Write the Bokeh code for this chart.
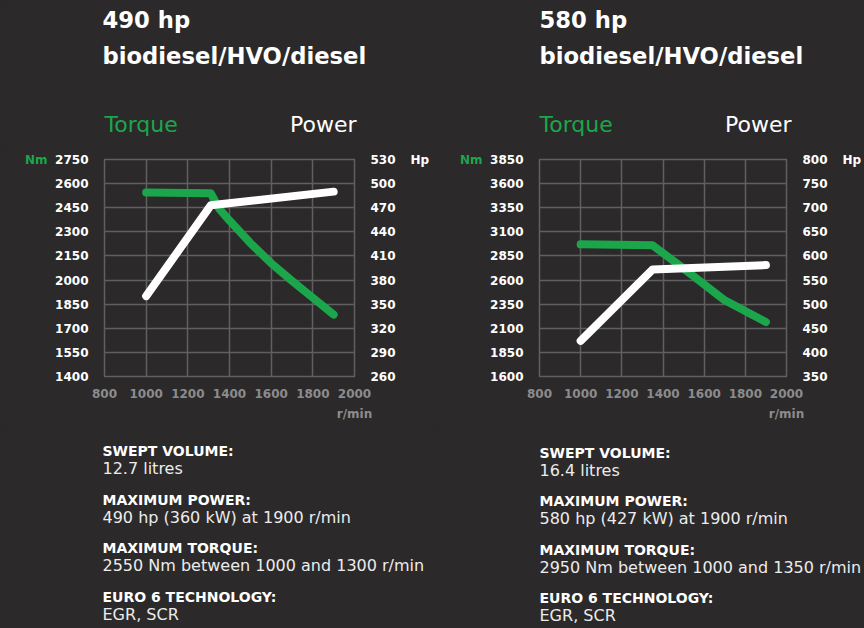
from bokeh.plotting import figure
from bokeh.models import LinearAxis, Range1d, FixedTicker
from bokeh.layouts import row, column
from bokeh.core.properties import value
from bokeh.embed import file_html
from bokeh.resources import INLINE

# ---------------- data ----------------
rpm_ticks = [800, 1000, 1200, 1400, 1600, 1800, 2000]

# 490 hp engine
torque_490_rpm = [1000, 1310, 1350, 1400, 1500, 1600, 1700, 1800, 1900]
torque_490_nm = [2545, 2540, 2445, 2370, 2230, 2105, 1995, 1890, 1785]
power_490_rpm = [1000, 1310, 1900]
power_490_hp = [360, 473, 490]
nm_ticks_490 = [1400, 1550, 1700, 1850, 2000, 2150, 2300, 2450, 2600, 2750]
hp_ticks_490 = [260, 290, 320, 350, 380, 410, 440, 470, 500, 530]

# 580 hp engine
torque_580_rpm = [1000, 1350, 1500, 1700, 1900]
torque_580_nm = [2970, 2960, 2720, 2390, 2165]
power_580_rpm = [1000, 1350, 1900]
power_580_hp = [424, 572, 581]
nm_ticks_580 = [1600, 1850, 2100, 2350, 2600, 2850, 3100, 3350, 3600, 3850]
hp_ticks_580 = [350, 400, 450, 500, 550, 600, 650, 700, 750, 800]

titles_490 = ["490 hp", "biodiesel/HVO/diesel"]
titles_580 = ["580 hp", "biodiesel/HVO/diesel"]
spec_heads = ["SWEPT VOLUME:", "MAXIMUM POWER:", "MAXIMUM TORQUE:",
              "EURO 6 TECHNOLOGY:"]
spec_values_490 = ["12.7 litres", "490 hp (360 kW) at 1900 r/min",
                   "2550 Nm between 1000 and 1300 r/min", "EGR, SCR"]
spec_values_580 = ["16.4 litres", "580 hp (427 kW) at 1900 r/min",
                   "2950 Nm between 1000 and 1350 r/min", "EGR, SCR"]

# ---------------- style ----------------
BG = "#2b292a"
GREEN = "#1ba64b"
GRID = "#606060"
GREYTXT = "#8c8c8c"
WHITE = "#ffffff"
BODY = "#ececec"
FONT = "DejaVu Sans"

PAGE_W, PAGE_H = 864, 628
TOP_H = 150            # title band
MID_H = 280            # chart band
BOT_H = PAGE_H - TOP_H - MID_H
FRAME_TOP, FRAME_BOTTOM, FRAME_W = 159, 376, 251
CHART_W = PAGE_W // 2
FRAME_LEFTS = [104, 539]
TEXT_LEFTS = [102, 539]


def style_axis(ax, color, standoff):
    ax.axis_line_color = None
    ax.major_tick_line_color = None
    ax.minor_tick_line_color = None
    ax.major_tick_out = 0
    ax.major_tick_in = 0
    ax.major_label_text_font = FONT
    ax.major_label_text_font_style = "bold"
    ax.major_label_text_font_size = "12px"
    ax.major_label_text_color = color
    ax.major_label_standoff = standoff


def chart(fig_left, frame_left, nm_ticks, hp_ticks, t_rpm, t_nm, p_rpm, p_hp):
    fl = frame_left - fig_left
    x0, x1 = rpm_ticks[0], rpm_ticks[-1]
    p = figure(width=CHART_W, height=MID_H, output_backend="svg",
               toolbar_location=None, x_range=Range1d(x0, x1),
               y_range=Range1d(nm_ticks[0], nm_ticks[-1]), title=None,
               min_border_left=fl, min_border_right=CHART_W - fl - FRAME_W,
               min_border_top=FRAME_TOP - TOP_H,
               min_border_bottom=TOP_H + MID_H - FRAME_BOTTOM)
    p.background_fill_color = BG
    p.border_fill_color = BG
    p.outline_line_color = GRID
    p.outline_line_width = 1.5
    p.extra_y_ranges = {"hp": Range1d(hp_ticks[0], hp_ticks[-1])}

    p.xaxis.ticker = FixedTicker(ticks=rpm_ticks)
    p.yaxis.ticker = FixedTicker(ticks=nm_ticks)
    for ax in p.xaxis:
        style_axis(ax, GREYTXT, 12)
    for ax in p.yaxis:
        style_axis(ax, WHITE, 16)

    rax = LinearAxis(y_range_name="hp", ticker=FixedTicker(ticks=hp_ticks))
    style_axis(rax, WHITE, 16)
    p.add_layout(rax, "right")

    # unit captions as outer axes carrying a single tick label
    nm_ax = LinearAxis(ticker=FixedTicker(ticks=[nm_ticks[-1]]),
                       major_label_overrides={nm_ticks[-1]: "Nm"})
    style_axis(nm_ax, GREEN, 5)
    p.add_layout(nm_ax, "left")
    hp_ax = LinearAxis(y_range_name="hp", ticker=FixedTicker(ticks=[hp_ticks[-1]]),
                       major_label_overrides={hp_ticks[-1]: "Hp"})
    style_axis(hp_ax, WHITE, 12)
    p.add_layout(hp_ax, "right")
    rpm_ax = LinearAxis(ticker=FixedTicker(ticks=[rpm_ticks[-1]]),
                        major_label_overrides={rpm_ticks[-1]: "r/min"})
    style_axis(rpm_ax, GREYTXT, 6)
    p.add_layout(rpm_ax, "below")

    p.xgrid.ticker = FixedTicker(ticks=rpm_ticks)
    p.ygrid.ticker = FixedTicker(ticks=nm_ticks)
    for g in (p.xgrid, p.ygrid):
        g.grid_line_color = GRID
        g.grid_line_width = 1.5

    p.line(t_rpm, t_nm, line_color=GREEN, line_width=8,
           line_cap="round", line_join="round")
    p.line(p_rpm, p_hp, y_range_name="hp", line_color=WHITE, line_width=8,
           line_cap="round", line_join="round")
    return p


def text_band(height, top):
    p = figure(width=PAGE_W, height=height, output_backend="svg",
               toolbar_location=None, x_range=Range1d(0, PAGE_W),
               y_range=Range1d(top + height, top), title=None,
               x_axis_location=None, y_axis_location=None, min_border=0)
    p.background_fill_color = BG
    p.border_fill_color = BG
    p.outline_line_color = None
    p.grid.visible = False
    return p


def put(p, x, baseline, text, color=WHITE, size=15.0, style="normal",
        align="left"):
    # compensate the renderer's baseline placement (about 0.41 em low)
    y = baseline - 0.41 * size
    p.text(x=[x], y=[y], text=[text], text_color=color,
           text_font=value(FONT), text_font_size=value(f"{size}px"),
           text_font_style=style, text_align=align,
           text_baseline="alphabetic")


# ---- title band ----
top = text_band(TOP_H, 0)
for fl, tx, titles in zip(FRAME_LEFTS, TEXT_LEFTS, [titles_490, titles_580]):
    put(top, tx, 29, titles[0], size=22.7, style="bold")
    put(top, tx, 65, titles[1], size=22.7, style="bold")
    put(top, fl, 133, "Torque", color=GREEN, size=22)
    put(top, fl + FRAME_W + 1, 133, "Power", size=22, align="right")

# ---- charts ----
c1 = chart(0, FRAME_LEFTS[0], nm_ticks_490, hp_ticks_490,
           torque_490_rpm, torque_490_nm, power_490_rpm, power_490_hp)
c2 = chart(CHART_W, FRAME_LEFTS[1], nm_ticks_580, hp_ticks_580,
           torque_580_rpm, torque_580_nm, power_580_rpm, power_580_hp)

# ---- spec band ----
bot = text_band(BOT_H, TOP_H + MID_H)
for tx, vals, dy in zip(TEXT_LEFTS, [spec_values_490, spec_values_580], [0, 1.5]):
    for i, (head, val) in enumerate(zip(spec_heads, vals)):
        b = 456.7 + dy + i * 48.5
        put(bot, tx, b, head, size=14, style="bold")
        put(bot, tx, b + 18, val, color=BODY, size=16)

layout = column(top, row(c1, c2, spacing=0), bot, spacing=0,
                styles={"background-color": BG})
open("out.html", "w").write(file_html(layout, INLINE))
